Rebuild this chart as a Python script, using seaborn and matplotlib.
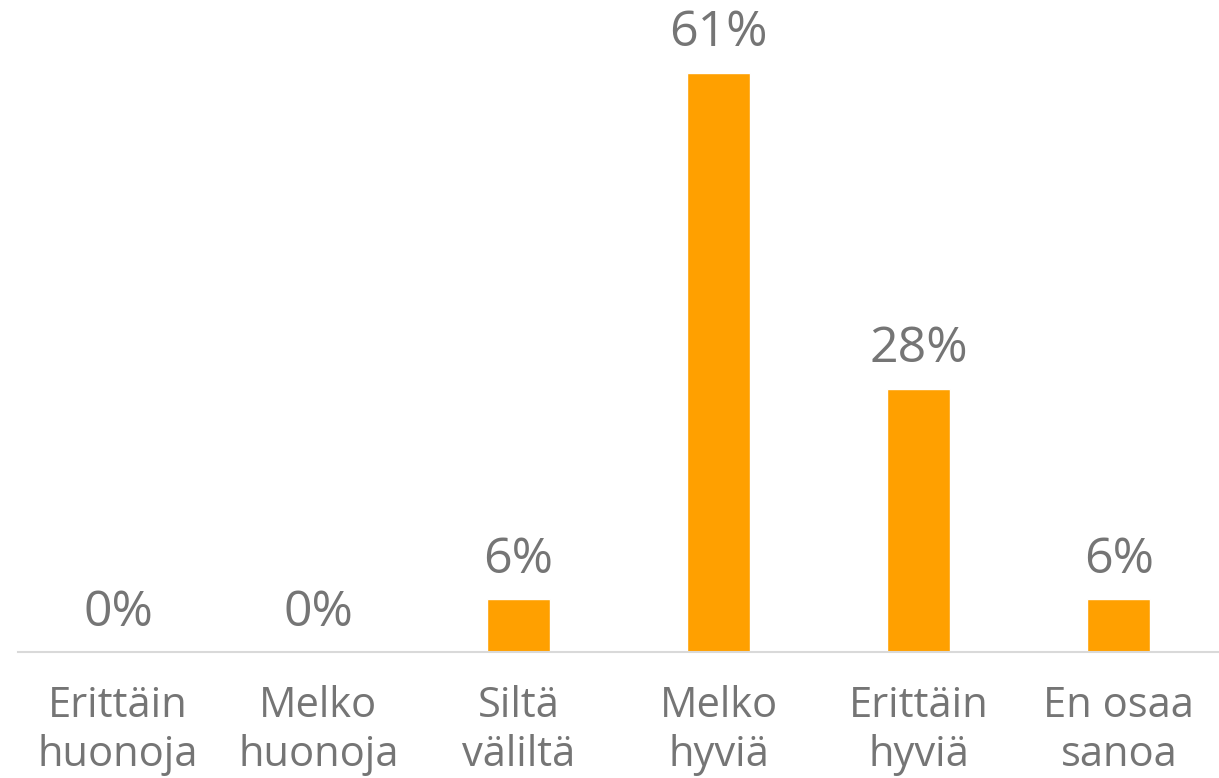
import seaborn as sns
import matplotlib.pyplot as plt
import pandas as pd

categories = ['Erittäin\nhuonoja', 'Melko\nhuonoja', 'Siltä\nväliltä',
              'Melko\nhyviä', 'Erittäin\nhyviä', 'En osaa\nsanoa']
# shares in percent (18 respondents)
values = [0.0, 0.0, 5.56, 61.11, 27.78, 5.56]
labels = ['0%', '0%', '6%', '61%', '28%', '6%']

df = pd.DataFrame({'category': categories, 'value': values})

sns.set_style('white')
plt.rcParams['font.family'] = ['Open Sans', 'DejaVu Sans']

text_color = '#757575'
fig = plt.figure(figsize=(12.19, 7.78), dpi=100)
ax = fig.add_axes([18 / 1219, 126 / 778, 1201 / 1219, 652 / 778])

sns.barplot(data=df, x='category', y='value', color='#FFA000',
            saturation=1, width=0.315, ax=ax)

ax.set_ylim(0, 68.8)
ax.set_xlim(-0.5, 5.5)
ax.set_xlabel('')
ax.set_ylabel('')
ax.set_yticks([])

for i, (v, lab) in enumerate(zip(values, labels)):
    ax.annotate(lab, (i, v), xytext=(0, 19), textcoords='offset points',
                ha='center', va='baseline', fontsize=36, color=text_color)

ax.tick_params(axis='x', length=0, pad=24, labelsize=30, labelcolor=text_color)
for t in ax.get_xticklabels():
    t.set_linespacing(1.2)

for s in ['top', 'left', 'right']:
    ax.spines[s].set_visible(False)
ax.spines['bottom'].set_color('#D9D9D9')
ax.spines['bottom'].set_linewidth(1.5)

plt.savefig('out.png', dpi=100)
